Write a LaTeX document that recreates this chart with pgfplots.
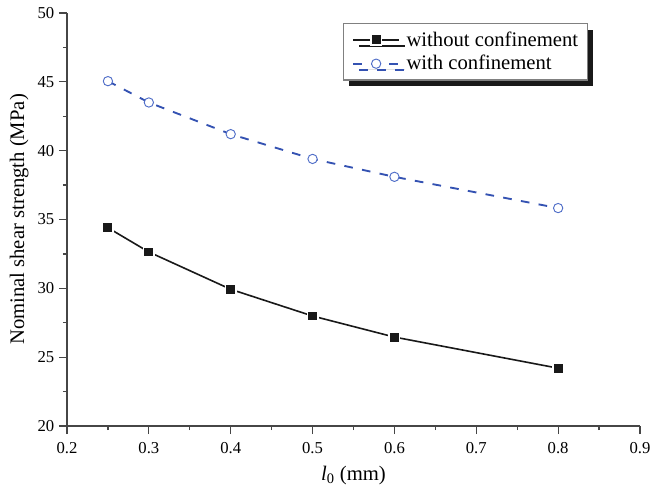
\documentclass[border=0pt]{standalone}
\usepackage{fontspec}
\setmainfont{Liberation Serif}
\usepackage{pgfplots}
\pgfplotsset{compat=1.18}
\usetikzlibrary{shadows}
\definecolor{lineblue}{RGB}{52,82,178}
\definecolor{markblue}{RGB}{80,110,200}
\definecolor{axgray}{RGB}{70,70,70}
\begin{document}
\begin{tikzpicture}
\useasboundingbox (-50.25pt,-50.25pt) rectangle (437.25pt,319.5pt);
\begin{axis}[
  at={(0,0)}, anchor=south west,
  scale only axis, width=429.75pt, height=309.75pt,
  xmin=0.2, xmax=0.9, ymin=20, ymax=50,
  axis x line*=bottom, axis y line*=left,
  axis line style={axgray, line width=1pt, -},
  xtick={0.2,0.3,0.4,0.5,0.6,0.7,0.8,0.9},
  ytick={20,25,30,35,40,45,50},
  minor x tick num=1, minor y tick num=1,
  tick align=outside,
  major tick length=6pt, minor tick length=3pt,
  every tick/.style={axgray, line width=0.9pt},
  ticklabel style={font=\rmfamily\fontsize{12.5}{14}\selectfont},
  /pgf/number format/assume math mode=true,
  xticklabel style={yshift=-3pt, /pgf/number format/fixed, /pgf/number format/precision=1, /pgf/number format/fixed zerofill},
  label style={font=\rmfamily\fontsize{15.5}{18}\selectfont},
  xlabel={\textit{l}\textsubscript{0} (mm)},
  xlabel style={yshift=-2pt},
  ylabel={Nominal shear strength (MPa)},
  legend style={at={(1,1)}, anchor=north east, xshift=-39pt, yshift=-7.5pt,
    draw=gray, fill=white, line width=0.8pt,
    drop shadow={shadow xshift=4.5pt, shadow yshift=-4.5pt, fill=black!90, opacity=1},
    font=\rmfamily\fontsize{15.5}{18}\selectfont,
    nodes={inner sep=0pt}, column sep=5pt, row sep=5.5pt,
    inner xsep=7pt, inner ysep=6pt},
  legend cell align=left,
  legend image code/.code={
    \draw[#1, mark=none] (0cm,0cm) -- (1.2cm,0cm);
    \draw[#1, only marks] plot coordinates {(0.6cm,0cm)};},
]
\addplot[black!90, line width=1.2pt, mark=square*, mark size=3.9pt,
  mark options={fill=black!90, draw=white, line width=1.1pt, solid}]
  coordinates {(0.25,34.4) (0.3,32.64) (0.4,29.93) (0.5,27.99) (0.6,26.46) (0.8,24.2)};
\addlegendentry{without confinement}
\addplot[lineblue, line width=1.4pt, dash pattern=on 6.5pt off 7pt, mark=*, mark size=3.5pt,
  mark options={solid, draw=markblue, fill=white, line width=0.7pt}]
  coordinates {(0.25,45.05) (0.3,43.5) (0.4,41.2) (0.5,39.4) (0.6,38.1) (0.8,35.83)};
\addlegendentry{with confinement}
\end{axis}
\end{tikzpicture}
\end{document}
